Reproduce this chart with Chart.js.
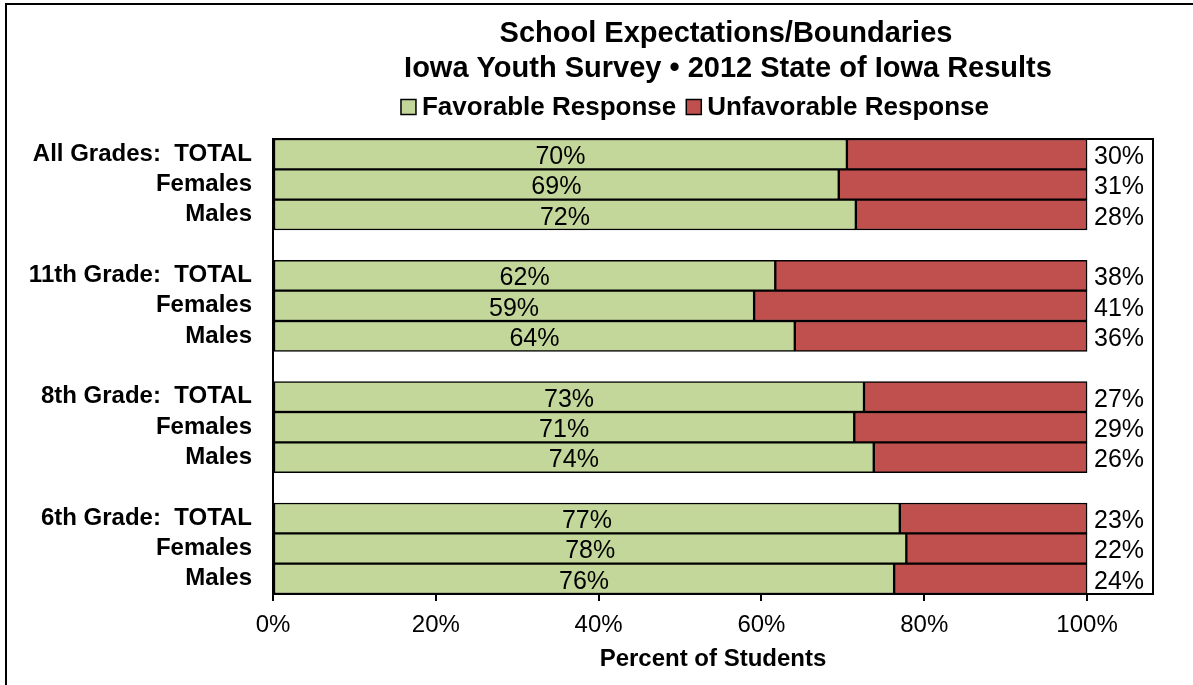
<!DOCTYPE html>
<html>
<head>
<meta charset="utf-8">
<title>School Expectations/Boundaries</title>
<script src="https://cdn.jsdelivr.net/npm/chart.js@4/dist/chart.umd.min.js"></script>
<style>
  html, body { margin: 0; padding: 0; background: #fff; overflow: hidden; }
  #wrap { position: relative; width: 1193px; height: 685px; }
  #chart { position: absolute; left: 0; top: 0; }
  /* outer frame: only the top and left edges show in the original crop */
  #frame {
    position: absolute; left: 5px; top: 3px; width: 1400px; height: 900px;
    border: 2px solid #000; box-sizing: border-box; pointer-events: none;
  }
</style>
</head>
<body>
<div id="wrap">
  <canvas id="chart" width="1193" height="685"></canvas>
  <div id="frame"></div>
</div>
<script>
/* ---------- DATA ---------- */
const CATEGORIES = [
  "All Grades:  TOTAL", "Females", "Males", "",
  "11th Grade:  TOTAL", "Females", "Males", "",
  "8th Grade:  TOTAL", "Females", "Males", "",
  "6th Grade:  TOTAL", "Females", "Males"
];

const FAVORABLE = [
  70.5, 69.5, 71.6, null,
  61.7, 59.1, 64.1, null,
  72.6, 71.4, 73.8, null,
  77.0, 77.8, 76.3
];
const UNFAVORABLE = [
  29.5, 30.5, 28.4, null,
  38.3, 40.9, 35.9, null,
  27.4, 28.6, 26.2, null,
  23.0, 22.2, 23.7
];

const FAV_LABELS = [
  "70%", "69%", "72%", "",
  "62%", "59%", "64%", "",
  "73%", "71%", "74%", "",
  "77%", "78%", "76%"
];
const UNFAV_LABELS = [
  "30%", "31%", "28%", "",
  "38%", "41%", "36%", "",
  "27%", "29%", "26%", "",
  "23%", "22%", "24%"
];

const X_TICKS = [0, 20, 40, 60, 80, 100];

const TITLE_LINES = [
  "School Expectations/Boundaries",
  "Iowa Youth Survey \u2022 2012 State of Iowa Results"
];
const SERIES_NAMES = ["Favorable Response", "Unfavorable Response"];
const SERIES_COLORS = ["#c4d79b", "#c0504d"];
const X_TITLE = "Percent of Students";

const FONT = "'Liberation Sans', Arial, sans-serif";

/* ---------- PLUGINS ---------- */
// title + legend drawn at the positions used by the original
const headerPlugin = {
  id: "header",
  afterDraw(chart) {
    const c = chart.ctx;
    c.save();
    c.fillStyle = "#000";
    c.textAlign = "center";
    c.textBaseline = "middle";
    c.font = "bold 29px " + FONT;
    c.fillText(TITLE_LINES[0], 726, 34);
    c.fillText(TITLE_LINES[1], 728, 69);

    // legend
    c.font = "bold 26px " + FONT;
    const box = 15, gap = 6, between = 10;
    const w0 = c.measureText(SERIES_NAMES[0]).width;
    const w1 = c.measureText(SERIES_NAMES[1]).width;
    const total = box + gap + w0 + between + box + gap + w1;
    let x = 695 - total / 2;
    const y = 107;
    c.textAlign = "left";
    chart.data.datasets.forEach((ds, i) => {
      c.fillStyle = ds.backgroundColor;
      c.fillRect(x, y - box / 2, box, box);
      c.strokeStyle = "#000";
      c.lineWidth = 1.5;
      c.strokeRect(x, y - box / 2, box, box);
      x += box + gap;
      c.fillStyle = "#000";
      c.fillText(ds.label, x, y + 1);
      x += (i === 0 ? w0 : w1) + between;
    });
    c.restore();
  }
};

// value labels: favorable centred in its bar, unfavorable right of 100%
const valueLabelPlugin = {
  id: "valueLabels",
  afterDatasetsDraw(chart) {
    const c = chart.ctx;
    const xScale = chart.scales.x;
    c.save();
    c.fillStyle = "#000";
    c.font = "25px " + FONT;
    c.textBaseline = "middle";

    chart.getDatasetMeta(0).data.forEach((bar, i) => {
      if (!FAV_LABELS[i]) return;
      c.textAlign = "center";
      c.fillText(FAV_LABELS[i], (bar.base + bar.x) / 2, bar.y + 3);
    });

    const right = xScale.getPixelForValue(100);
    chart.getDatasetMeta(1).data.forEach((bar, i) => {
      if (!UNFAV_LABELS[i]) return;
      c.textAlign = "left";
      c.fillText(UNFAV_LABELS[i], right + 7, bar.y + 3);
    });
    c.restore();
  }
};

// top and right edges of the plot box
const plotFramePlugin = {
  id: "plotFrame",
  afterDraw(chart) {
    const a = chart.chartArea;
    const c = chart.ctx;
    c.save();
    c.strokeStyle = "#000";
    c.lineWidth = 2;
    c.beginPath();
    c.moveTo(a.left, a.top);
    c.lineTo(a.right, a.top);
    c.lineTo(a.right, a.bottom);
    c.stroke();
    c.restore();
  }
};

/* ---------- CHART ---------- */
const ctx = document.getElementById("chart").getContext("2d");

new Chart(ctx, {
  type: "bar",
  data: {
    labels: CATEGORIES,
    datasets: [
      {
        label: SERIES_NAMES[0],
        data: FAVORABLE,
        backgroundColor: SERIES_COLORS[0]
      },
      {
        label: SERIES_NAMES[1],
        data: UNFAVORABLE,
        backgroundColor: SERIES_COLORS[1]
      }
    ]
  },
  options: {
    indexAxis: "y",
    responsive: false,
    animation: false,
    events: [],
    layout: { padding: { top: 139, right: 40, bottom: 0, left: 0 } },
    datasets: {
      bar: {
        barPercentage: 1,
        categoryPercentage: 1,
        borderWidth: 1.5,
        borderColor: "#000",
        borderSkipped: false
      }
    },
    plugins: {
      legend: { display: false },
      title: { display: false },
      tooltip: { enabled: false }
    },
    scales: {
      x: {
        stacked: true,
        min: 0,
        max: 108.1,
        afterBuildTicks(scale) {
          scale.ticks = X_TICKS.map(v => ({ value: v }));
        },
        afterFit(scale) {
          scale.height = 91;
        },
        ticks: {
          color: "#000",
          font: { family: FONT, size: 24 },
          padding: 10,
          maxRotation: 0,
          callback: v => v + "%"
        },
        grid: {
          drawOnChartArea: false,
          drawTicks: true,
          tickLength: 7,
          color: "#000",
          lineWidth: 2
        },
        border: { display: true, color: "#000", width: 2 },
        title: {
          display: true,
          text: X_TITLE,
          color: "#000",
          font: { family: FONT, size: 24, weight: "bold" },
          padding: { top: 0, bottom: 11 }
        }
      },
      y: {
        stacked: true,
        afterFit(scale) {
          scale.width = 273;
        },
        ticks: {
          color: "#000",
          font: { family: FONT, size: 24, weight: "bold" },
          padding: 21,
          autoSkip: false
        },
        grid: { display: false, drawTicks: false },
        border: { display: true, color: "#000", width: 2 }
      }
    }
  },
  plugins: [valueLabelPlugin, plotFramePlugin, headerPlugin]
});
</script>
</body>
</html>
